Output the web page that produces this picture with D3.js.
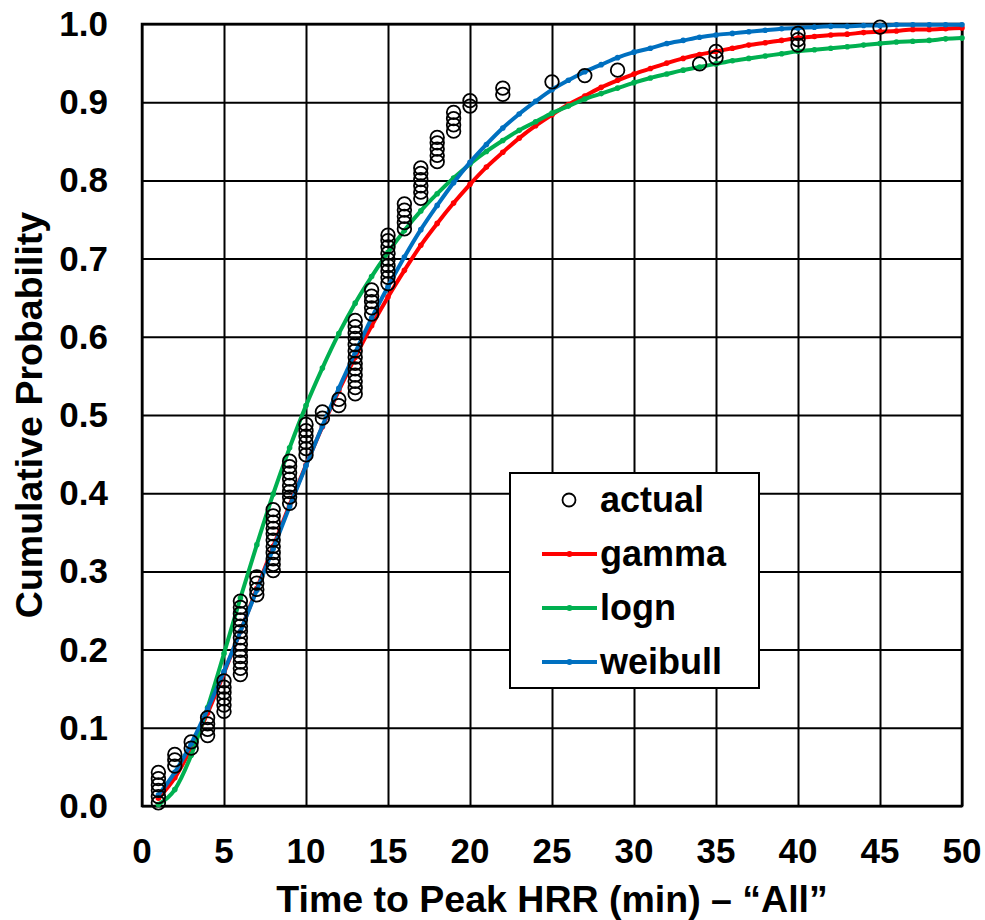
<!DOCTYPE html>
<html>
<head>
<meta charset="utf-8">
<script src="https://cdn.jsdelivr.net/npm/d3@7"></script>
<style>
  html, body { margin: 0; padding: 0; background: #fff; }
  .chart { width: 985px; height: 920px; }
  text { font-family: 'Liberation Sans', Arial, sans-serif; font-weight: bold; fill: #000; }
</style>
</head>
<body>
<div class="chart"></div>
<script>
// tick labels
const xTickValues = [0, 5, 10, 15, 20, 25, 30, 35, 40, 45, 50];
const yTickValues = [0, 0.1, 0.2, 0.3, 0.4, 0.5, 0.6, 0.7, 0.8, 0.9, 1.0];

// observed times (min), one entry per fire, and their plotting positions
const actualX = [
  1, 1, 1, 1, 1, 1, 2, 2, 2, 3, 3, 4, 4, 4, 4, 5, 5, 5, 5, 5, 5,
  6, 6, 6, 6, 6, 6, 6, 6, 6, 6, 6, 6, 6, 7, 7, 7, 7,
  8, 8, 8, 8, 8, 8, 8, 8, 8, 8, 8, 9, 9, 9, 9, 9, 9, 9, 9,
  10, 10, 10, 10, 10, 10, 11, 11, 12, 12,
  13, 13, 13, 13, 13, 13, 13, 13, 13, 13, 13, 13, 13, 14, 14, 14, 14, 14,
  15, 15, 15, 15, 15, 15, 15, 15, 15, 16, 16, 16, 16, 16,
  17, 17, 17, 17, 17, 17, 18, 18, 18, 18, 18, 19, 19, 19, 19, 20, 20,
  22, 22, 25, 27, 29, 34, 35, 35, 40, 40, 40, 45
];
const actualP = [
  0.004, 0.012, 0.020, 0.027, 0.035, 0.043, 0.051, 0.059, 0.066, 0.074,
  0.082, 0.090, 0.098, 0.105, 0.113, 0.121, 0.129, 0.137, 0.145, 0.152,
  0.160, 0.168, 0.176, 0.184, 0.191, 0.199, 0.207, 0.215, 0.223, 0.230,
  0.238, 0.246, 0.254, 0.262, 0.270, 0.277, 0.285, 0.293, 0.301, 0.309,
  0.316, 0.324, 0.332, 0.340, 0.348, 0.355, 0.363, 0.371, 0.379, 0.387,
  0.395, 0.402, 0.410, 0.418, 0.426, 0.434, 0.441, 0.449, 0.457, 0.465,
  0.473, 0.480, 0.488, 0.496, 0.504, 0.512, 0.520, 0.527, 0.535, 0.543,
  0.551, 0.559, 0.566, 0.574, 0.582, 0.590, 0.598, 0.605, 0.613, 0.621,
  0.629, 0.637, 0.645, 0.652, 0.660, 0.668, 0.676, 0.684, 0.691, 0.699,
  0.707, 0.715, 0.723, 0.730, 0.738, 0.746, 0.754, 0.762, 0.770, 0.777,
  0.785, 0.793, 0.801, 0.809, 0.816, 0.824, 0.832, 0.840, 0.848, 0.855,
  0.863, 0.871, 0.879, 0.887, 0.895, 0.902, 0.910, 0.918, 0.926, 0.934,
  0.941, 0.949, 0.957, 0.965, 0.973, 0.980, 0.988, 0.996
];

// fitted curves, sampled every minute
const fitX = [
  1, 2, 3, 4, 5, 6, 7, 8, 9, 10, 11, 12, 13, 14, 15, 16, 17, 18, 19, 20,
  21, 22, 23, 24, 25, 26, 27, 28, 29, 30, 31, 32, 33, 34, 35, 36, 37, 38, 39, 40,
  41, 42, 43, 44, 45, 46, 47, 48, 49, 50
];
const gammaP = [
  0.010, 0.036, 0.074, 0.119, 0.170, 0.223, 0.278, 0.332, 0.385, 0.436,
  0.485, 0.531, 0.574, 0.614, 0.651, 0.685, 0.717, 0.745, 0.771, 0.795,
  0.817, 0.836, 0.854, 0.870, 0.884, 0.897, 0.908, 0.919, 0.928, 0.936,
  0.943, 0.950, 0.956, 0.961, 0.965, 0.969, 0.973, 0.976, 0.979, 0.982,
  0.984, 0.986, 0.987, 0.989, 0.990, 0.991, 0.993, 0.993, 0.994, 0.995
];
const lognP = [
  0.002, 0.021, 0.065, 0.126, 0.195, 0.266, 0.334, 0.399, 0.458, 0.512,
  0.560, 0.604, 0.643, 0.677, 0.708, 0.736, 0.761, 0.783, 0.803, 0.821,
  0.837, 0.851, 0.864, 0.875, 0.886, 0.895, 0.904, 0.911, 0.918, 0.925,
  0.931, 0.936, 0.941, 0.945, 0.949, 0.953, 0.956, 0.959, 0.962, 0.965,
  0.967, 0.969, 0.971, 0.973, 0.975, 0.977, 0.978, 0.979, 0.981, 0.982
];
const weibullP = [
  0.014, 0.043, 0.080, 0.124, 0.172, 0.223, 0.276, 0.329, 0.383, 0.435,
  0.486, 0.534, 0.580, 0.624, 0.664, 0.702, 0.737, 0.768, 0.797, 0.823,
  0.846, 0.867, 0.885, 0.901, 0.916, 0.928, 0.939, 0.948, 0.957, 0.964,
  0.969, 0.975, 0.979, 0.983, 0.986, 0.988, 0.990, 0.992, 0.994, 0.995,
  0.996, 0.997, 0.997, 0.998, 0.998, 0.999, 0.999, 0.999, 0.999, 0.999
];

const seriesNames  = ['gamma', 'logn', 'weibull'];
const seriesColors = ['#ff0000', '#00b050', '#0070c0'];

(function() {
  'use strict';

  let width  = 985,
      height = 920,
      margin = { top: 24, right: 23, bottom: 114, left: 142 },
      innerW = width - margin.left - margin.right,
      innerH = height - margin.top - margin.bottom,

      svg = d3.select('.chart')
        .append('svg')
        .attr('width', width)
        .attr('height', height),

      g = svg.append('g')
        .attr('transform', `translate(${margin.left},${margin.top})`),

      x = d3.scaleLinear().domain([0, 50]).range([0, innerW]),
      y = d3.scaleLinear().domain([0, 1]).range([innerH, 0]),

      fits = [gammaP, lognP, weibullP];

  // grid
  g.append('g')
    .call(d3.axisBottom(x).tickValues(xTickValues).tickSize(-innerH).tickFormat(''))
    .attr('transform', `translate(0,${innerH})`)
    .call(s => s.select('.domain').remove())
    .selectAll('line').attr('stroke', '#000').attr('stroke-width', 2);

  g.append('g')
    .call(d3.axisLeft(y).tickValues(yTickValues).tickSize(-innerW).tickFormat(''))
    .call(s => s.select('.domain').remove())
    .selectAll('line').attr('stroke', '#000').attr('stroke-width', 2);

  g.append('rect')
    .attr('width', innerW)
    .attr('height', innerH)
    .attr('fill', 'none')
    .attr('stroke', '#000')
    .attr('stroke-width', 2.5);

  // tick labels
  g.selectAll('.xlab')
    .data(xTickValues)
    .enter()
    .append('text')
      .attr('x', d => x(d))
      .attr('y', innerH + 57)
      .attr('text-anchor', 'middle')
      .style('font-size', '35px')
      .text(d => d);

  g.selectAll('.ylab')
    .data(yTickValues)
    .enter()
    .append('text')
      .attr('x', -34)
      .attr('y', d => y(d) + 12)
      .attr('text-anchor', 'end')
      .style('font-size', '35px')
      .text(d => d3.format('.1f')(d));

  // fitted lines
  let line = d3.line()
    .x((d, i) => x(fitX[i]))
    .y(d => y(d))
    .curve(d3.curveMonotoneX);

  fits.forEach((vals, k) => {
    g.append('path')
      .datum(vals)
      .attr('d', line)
      .attr('fill', 'none')
      .attr('stroke', seriesColors[k])
      .attr('stroke-width', 4);

    g.append('g')
      .selectAll('circle')
      .data(vals)
      .enter()
      .append('circle')
        .attr('cx', (d, i) => x(fitX[i]))
        .attr('cy', d => y(d))
        .attr('r', 2.8)
        .attr('fill', seriesColors[k]);
  });

  // actual points
  g.append('g')
    .selectAll('circle')
    .data(actualP)
    .enter()
    .append('circle')
      .attr('cx', (d, i) => x(actualX[i]))
      .attr('cy', d => y(d))
      .attr('r', 6.8)
      .attr('fill', 'none')
      .attr('stroke', '#000')
      .attr('stroke-width', 1.8);

  // legend
  let lg = svg.append('g').attr('transform', 'translate(510,473)');

  lg.append('rect')
    .attr('width', 249)
    .attr('height', 215)
    .attr('fill', '#fff')
    .attr('stroke', '#000')
    .attr('stroke-width', 2);

  lg.append('circle')
    .attr('cx', 59)
    .attr('cy', 27)
    .attr('r', 6.5)
    .attr('fill', 'none')
    .attr('stroke', '#000')
    .attr('stroke-width', 1.8);

  lg.append('text')
    .attr('x', 90)
    .attr('y', 39)
    .style('font-size', '36px')
    .text('actual');

  seriesNames.forEach((name, k) => {
    let cy = 81 + k * 54;
    lg.append('line')
      .attr('x1', 32).attr('x2', 87)
      .attr('y1', cy).attr('y2', cy)
      .attr('stroke', seriesColors[k])
      .attr('stroke-width', 4);
    lg.append('circle')
      .attr('cx', 59.5).attr('cy', cy).attr('r', 3)
      .attr('fill', seriesColors[k]);
    lg.append('text')
      .attr('x', 90)
      .attr('y', cy + 12)
      .style('font-size', '36px')
      .text(name);
  });

  // axis titles
  svg.append('text')
    .attr('x', margin.left + innerW / 2)
    .attr('y', 912)
    .attr('text-anchor', 'middle')
    .style('font-size', '37.5px')
    .text('Time to Peak HRR (min) – “All”');

  svg.append('text')
    .attr('transform', `translate(42,${margin.top + innerH / 2}) rotate(-90)`)
    .attr('text-anchor', 'middle')
    .style('font-size', '37.5px')
    .text('Cumulative Probability');

})();
</script>
</body>
</html>
